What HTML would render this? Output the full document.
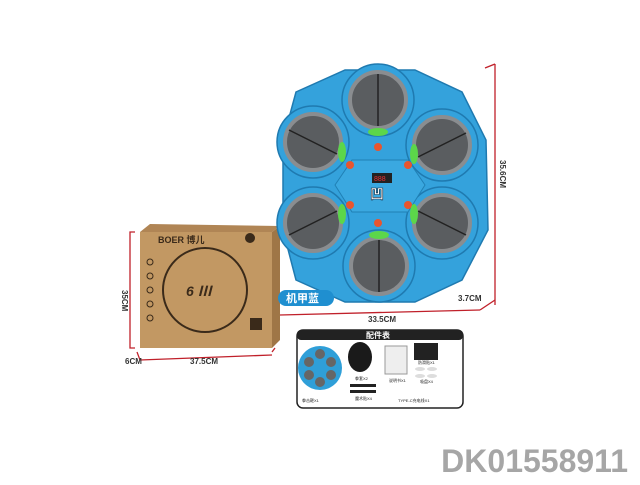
<!DOCTYPE html><html><head><style>body{margin:0;background:#fff;width:640px;height:480px;overflow:hidden;font-family:"Liberation Sans","Noto Sans CJK SC",sans-serif}</style></head><body>
<svg width="640" height="480" viewBox="0 0 640 480" xmlns="http://www.w3.org/2000/svg">
<!-- box -->
<polygon points="140,232 150,224 280,226 272,232" fill="#b08555"/>
<polygon points="272,232 280,226 280,340 272,348" fill="#9f7646"/>
<rect x="140" y="232" width="132" height="116" fill="#c29863"/>
<text x="158" y="243" font-size="9" font-weight="bold" fill="#3a2a1a">BOER 博儿</text>
<circle cx="250" cy="238" r="5" fill="#3a2a1a"/>
<circle cx="205" cy="290" r="42" fill="none" stroke="#3a2a1a" stroke-width="2"/>
<text x="186" y="296" font-size="14" font-weight="bold" fill="#3a2a1a" font-style="italic">6 Ⅲ</text>
<rect x="250" y="318" width="12" height="12" fill="#3a2a1a"/>
<g fill="none" stroke="#3a2a1a"><circle cx="150" cy="262" r="3"/><circle cx="150" cy="276" r="3"/><circle cx="150" cy="290" r="3"/><circle cx="150" cy="304" r="3"/><circle cx="150" cy="318" r="3"/></g>
<!-- red dims -->
<g stroke="#c0202a" stroke-width="1.3" fill="none">
<polyline points="135,232 130,232 130,348 135,348"/>
<line x1="140" y1="360" x2="272" y2="355"/>
<line x1="137" y1="352" x2="140" y2="360"/>
<polyline points="272,352 275,348"/>
<line x1="485" y1="68" x2="495" y2="64"/><line x1="495" y1="64" x2="495" y2="305"/>
<line x1="280" y1="315" x2="480" y2="310"/><line x1="480" y1="310" x2="495" y2="300"/>
</g>
<text x="122" y="290" font-size="8" font-weight="bold" transform="rotate(90 122 290)" fill="#333">35CM</text>
<text x="125" y="364" font-size="8" font-weight="bold" fill="#333">6CM</text>
<text x="190" y="364" font-size="8" font-weight="bold" fill="#333">37.5CM</text>
<text x="500" y="160" font-size="8" font-weight="bold" transform="rotate(90 500 160)" fill="#333">35.6CM</text>
<text x="458" y="301" font-size="8" font-weight="bold" fill="#333">3.7CM</text>
<text x="368" y="322" font-size="8" font-weight="bold" fill="#333">33.5CM</text>
<!-- disc -->
<g fill="#34a2dc" stroke="#1f7ab0" stroke-width="1.5">
<polygon points="345,70 415,70 462,92 486,140 488,230 462,280 415,302 345,302 296,280 283,230 283,140 296,92"/>
<circle cx="378" cy="100" r="36"/><circle cx="313" cy="142" r="36"/><circle cx="442" cy="145" r="36"/>
<circle cx="313" cy="223" r="36"/><circle cx="442" cy="223" r="36"/><circle cx="379" cy="266" r="36"/>
</g>
<polygon points="352,160 408,160 425,185 408,212 352,212 335,185" fill="#3aa8e0" stroke="#2080b5"/>
<g fill="#5a5d60" stroke="#8a8d90" stroke-width="4">
<circle cx="378" cy="100" r="28"/><circle cx="313" cy="142" r="28"/><circle cx="442" cy="145" r="28"/>
<circle cx="313" cy="223" r="28"/><circle cx="442" cy="223" r="28"/><circle cx="379" cy="266" r="28"/>
</g>
<g stroke="#222" stroke-width="1.5"><line x1="378" y1="74" x2="378" y2="126"/><line x1="379" y1="240" x2="379" y2="292"/><line x1="289" y1="130" x2="337" y2="154"/><line x1="418" y1="157" x2="466" y2="133"/><line x1="289" y1="235" x2="337" y2="211"/><line x1="418" y1="211" x2="466" y2="235"/></g>
<rect x="372" y="173" width="20" height="10" fill="#222"/><text x="374" y="181" font-size="7" fill="#e33">888</text>
<text x="370" y="199" font-size="14" font-weight="bold" fill="#fff" stroke="#123" stroke-width="0.6">凹</text>
<g fill="#e8552e"><circle cx="378" cy="147" r="4"/><circle cx="350" cy="165" r="4"/><circle cx="408" cy="165" r="4"/><circle cx="350" cy="205" r="4"/><circle cx="408" cy="205" r="4"/><circle cx="378" cy="223" r="4"/></g>
<g fill="#5cd64a"><ellipse cx="342" cy="152" rx="4" ry="10"/><ellipse cx="414" cy="154" rx="4" ry="10"/><ellipse cx="342" cy="214" rx="4" ry="10"/><ellipse cx="414" cy="214" rx="4" ry="10"/><ellipse cx="378" cy="132" rx="10" ry="4"/><ellipse cx="379" cy="235" rx="10" ry="4"/></g>
<!-- label -->
<rect x="278" y="290" width="56" height="16" rx="8" fill="#1f8fd0"/>
<text x="286" y="302" font-size="11" font-weight="bold" fill="#fff">机甲蓝</text>
<!-- accessory table -->
<rect x="297" y="330" width="166" height="78" rx="6" fill="#fff" stroke="#222" stroke-width="1.5"/>
<rect x="297" y="330" width="166" height="10" rx="4" fill="#222"/>
<text x="366" y="338" font-size="8" font-weight="bold" fill="#fff">配件表</text>
<circle cx="320" cy="368" r="22" fill="#2f9fd8"/>
<g fill="#666"><circle cx="320" cy="354" r="5"/><circle cx="309" cy="362" r="5"/><circle cx="331" cy="362" r="5"/><circle cx="309" cy="375" r="5"/><circle cx="331" cy="375" r="5"/><circle cx="320" cy="382" r="5"/></g>
<ellipse cx="360" cy="357" rx="12" ry="15" fill="#1a1a1a"/>
<rect x="350" y="384" width="26" height="3" fill="#222"/><rect x="350" y="390" width="26" height="3" fill="#222"/>
<rect x="385" y="346" width="22" height="28" fill="#eee" stroke="#999"/>
<rect x="414" y="343" width="24" height="17" fill="#222"/>
<g fill="#ddd"><ellipse cx="420" cy="369" rx="5" ry="2"/><ellipse cx="432" cy="369" rx="5" ry="2"/><ellipse cx="420" cy="376" rx="5" ry="2"/><ellipse cx="432" cy="376" rx="5" ry="2"/></g>
<g font-size="4" fill="#222"><text x="302" y="402">拳击靶X1</text><text x="355" y="380">拳套X2</text><text x="355" y="400">魔术贴X4</text><text x="389" y="382">说明书X1</text><text x="398" y="402">TYPE-C充电线X1</text><text x="418" y="364">防滑贴X1</text><text x="420" y="383">吸盘X4</text></g>
<text x="628" y="472" font-size="32" font-weight="bold" fill="#a6a6a6" text-anchor="end">DK01558911</text>
</svg></body></html>
